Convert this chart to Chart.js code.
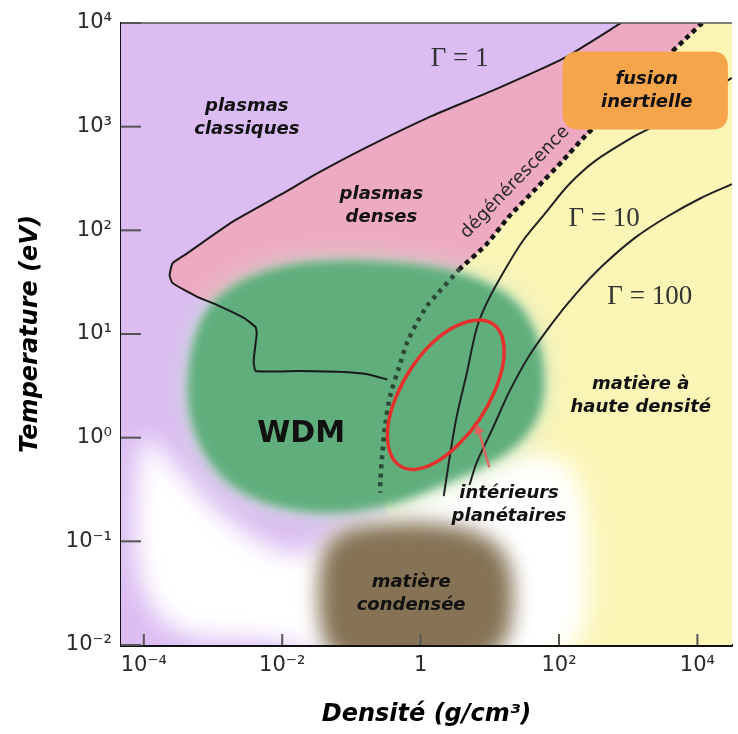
<!DOCTYPE html>
<html><head><meta charset="utf-8">
<script src="https://cdn.jsdelivr.net/npm/chart.js@4.4.0/dist/chart.umd.min.js"></script>
<style>html,body{margin:0;padding:0;background:#fff;}#c{display:block;}</style>
</head><body>
<canvas id="c" width="738" height="734"></canvas>
<script>
// ===== Data: density (g/cm3) and temperature (eV) =====
const xTickValues = [1e-4, 1e-2, 1, 1e2, 1e4];
const xTickLabels = ['10⁻⁴', '10⁻²', '1', '10²', '10⁴'];
const yTickValues = [1e-2, 1e-1, 1, 10, 100, 1000, 10000];
const yTickLabels = ['10⁻²', '10⁻¹', '10⁰', '10¹', '10²', '10³', '10⁴'];

// Gamma = 1 boundary (classical / dense plasmas)
const gamma1Density = [787, 116, 12.8, 1.46, 0.160, 0.033, 0.00975, 0.00188, 4.12e-4, 2.60e-4, 2.36e-4, 2.60e-4, 5.73e-4, 1.22e-3, 2.78e-3, 4.14e-3, 4.28e-3, 3.87e-3, 4.14e-3, 0.0171, 0.0802, 0.171, 0.330];
const gamma1Temp    = [1e4, 4550, 2330, 1270, 624, 358, 223, 120, 59.3, 48.1, 36.6, 31.0, 23.1, 18.7, 14.3, 11.6, 10, 5.56, 4.40, 4.40, 4.30, 4.09, 3.64];

// Degeneracy line
const degenUpperDensity = [1.17e4, 1622, 240, 113, 46.3, 19.0, 8.91, 3.66];
const degenUpperTemp    = [1e4, 2840, 815, 468, 252, 136, 73.1, 42.4];
const degenLowerDensity = [3.66, 1.72, 1.24, 0.888, 0.638, 0.491, 0.365, 0.310, 0.281, 0.262, 0.262];
const degenLowerTemp    = [42.4, 24.1, 18.7, 12.9, 8.28, 4.83, 2.56, 1.36, 0.727, 0.375, 0.294];

// Gamma = 10 and Gamma = 100
const gamma10Density = [3.15e4, 2260, 1250, 334, 137, 64.3, 30.1, 15.6, 8.91, 6.41, 4.61, 3.32, 2.55, 2.16];
const gamma10Temp    = [2950, 1000, 815, 468, 274, 148, 79.4, 39.0, 19.5, 11.1, 4.09, 1.60, 0.569, 0.273];
const gamma100Density = [3.15e4, 1.13e4, 3690, 1250, 421, 173, 80.9, 36.7, 19.0, 11.2, 6.41, 5.09];
const gamma100Temp    = [279, 205, 136, 84.6, 45.2, 24.1, 12.9, 6.11, 2.75, 1.26, 0.569, 0.349];

// Planetary interiors (red contour) and arrow
const planetDensity = [11.3, 15.3, 15.7, 11.9, 7.08, 3.53, 1.66, 0.818, 0.472, 0.348, 0.340, 0.447, 0.753, 1.51, 3.22, 6.52];
const planetTemp    = [12.4, 9.06, 5.36, 2.85, 1.50, 0.859, 0.578, 0.494, 0.551, 0.787, 1.35, 2.52, 4.80, 8.32, 11.9, 13.6];
const arrowDensity = [9.84, 6.85];
const arrowTemp    = [0.516, 1.18];

// Regions
const wdmDensity = [4.55e-4, 7.46e-4, 2.36e-3, 0.0123, 0.0885, 0.888, 4.61, 20.3, 46.3, 64.3, 54.6, 23.9, 6.41, 1.72, 0.459, 0.0637, 8.84e-3, 1.70e-3, 6.36e-4, 4.14e-4];
const wdmTemp    = [6.55, 17.6, 33.0, 48.1, 52.2, 48.1, 38.2, 24.1, 11.6, 4.09, 1.60, 0.783, 0.480, 0.332, 0.230, 0.180, 0.204, 0.332, 0.783, 2.02];
const lowDensity = [7.43e-5, 2.36e-4, 1.04e-3, 4.57e-3, 0.0201, 0.0637, 0.888, 6.41, 54.6, 204, 283, 240, 0.0458, 0.0171, 7.43e-5];
const lowTemp    = [1.42, 0.613, 0.204, 0.0975, 0.0667, 0.141, 0.294, 0.542, 0.783, 0.480, 0.0859, 0.005, 0.005, 0.0114, 0.0114];
const condensedDensity = [0.0458, 0.459, 4.61, 17.2, 23.9, 17.2, 2.38, 0.171, 0.0388, 0.0308];
const condensedTemp    = [0.125, 0.159, 0.141, 0.0859, 0.0313, 0.008, 0.006, 0.006, 0.008, 0.0402];
const denseCornerDensity = [2, 1e5, 1e5];
const denseCornerTemp    = [0.005, 0.005, 2e4];
const fusionBoxDensity = [113, 2.76e4];
const fusionBoxTemp    = [940, 5320];

// Annotations
const regionLabelText = [['plasmas', 'classiques'], ['plasmas', 'denses'], ['fusion', 'inertielle'], ['matière à', 'haute densité'], ['intérieurs', 'planétaires'], ['matière', 'condensée']];
const regionLabelDensity = [3.08e-3, 0.271, 1854, 1520, 19.0, 0.729];
const regionLabelTemp    = [1216, 171, 2198, 2.56, 0.224, 0.0313];
const gammaLabelText = ['Γ = 1', 'Γ = 10', 'Γ = 100'];
const gammaLabelDensity = [3.66, 450, 2050];
const gammaLabelTemp    = [4470, 128, 22.6];
const wdmLabel = 'WDM';
const wdmLabelDensity = 0.0188, wdmLabelTemp = 1.07;
const degenLabel = 'dégénérescence';
const degenLabelDensity = 23.2, degenLabelTemp = 291;

// ===== Build =====
const toPts = (xs, ys) => xs.map((x, i) => ({x: x, y: ys[i]}));
const degenDensity = degenUpperDensity.concat(degenLowerDensity.slice(1));
const degenTemp = degenUpperTemp.concat(degenLowerTemp.slice(1));
const densePts = toPts(degenDensity.concat(denseCornerDensity), degenTemp.concat(denseCornerTemp));
const pinkPts = toPts(gamma1Density, gamma1Temp).concat(toPts(degenDensity, degenTemp).filter(p => p.y >= 4).reverse());
const planetPts = toPts(planetDensity, planetTemp);
const planetLoop = [planetPts[planetPts.length - 1]].concat(planetPts, [planetPts[0], planetPts[1]]);

const RED = '#e6302b';
const regionDs = (data, color, blur, smooth) => ({data: data, showLine: false, pointRadius: 0, pointHitRadius: 0, region: {color: color, blur: blur, smooth: smooth}});
const lineDs = (data, color, width, extra) => Object.assign({data: data, showLine: true, pointRadius: 0, borderColor: color, borderWidth: width, tension: 0.3, fill: false}, extra || {});

const datasets = [
  regionDs(densePts, '#fcf5b6', 0, false),
  regionDs(pinkPts, '#eeaac2', 0, false),
  regionDs(toPts(lowDensity, lowTemp), '#ffffff', 12, true),
  regionDs(toPts(wdmDensity, wdmTemp), 'rgba(196,230,205,0.95)', 14, true),
  regionDs(toPts(wdmDensity, wdmTemp), '#5fae7c', 5, true),
  regionDs(toPts(condensedDensity, condensedTemp), '#867356', 10, true),
  lineDs(toPts(degenUpperDensity, degenUpperTemp), '#111111', 4.5, {borderDash: [5, 4], order: 3, tension: 0.2}),
  lineDs(toPts(degenLowerDensity, degenLowerTemp), 'rgba(35,55,45,0.85)', 4.5, {borderDash: [4, 5], order: 3}),
  lineDs(toPts(gamma1Density, gamma1Temp), '#1a1a1a', 2, {order: 2, tension: 0.15}),
  lineDs(toPts(gamma10Density, gamma10Temp), '#222222', 2, {order: 2}),
  lineDs(toPts(gamma100Density, gamma100Temp), '#222222', 2, {order: 2}),
  lineDs(planetLoop, RED, 3.5, {order: 1, tension: 0.4,
    segment: {borderColor: c => (c.p0DataIndex === 0 || c.p1DataIndex === planetLoop.length - 1) ? 'rgba(0,0,0,0)' : RED}}),
  lineDs(toPts(arrowDensity, arrowTemp), 'rgba(236,90,90,0.85)', 2.5, {order: 0, tension: 0,
    pointRadius: [0, 6], pointStyle: 'triangle', pointBackgroundColor: 'rgba(236,90,90,0.9)', pointBorderWidth: 0,
    pointRotation: c => {
      const xs = c.chart.scales.x, ys = c.chart.scales.y;
      const dx = xs.getPixelForValue(arrowDensity[1]) - xs.getPixelForValue(arrowDensity[0]);
      const dy = ys.getPixelForValue(arrowTemp[1]) - ys.getPixelForValue(arrowTemp[0]);
      return Math.atan2(dx, -dy) * 180 / Math.PI;
    }})
];

const LABEL_FONT = 'italic bold 18px "DejaVu Sans"';
const regionPlugin = {
  id: 'regions',
  beforeDatasetsDraw(chart) {
    const {ctx, chartArea: a} = chart;
    ctx.save();
    ctx.beginPath();
    ctx.rect(a.left, a.top, a.right - a.left, a.bottom - a.top);
    ctx.clip();
    ctx.fillStyle = '#dcbdf3';
    ctx.fillRect(a.left, a.top, a.right - a.left, a.bottom - a.top);
    chart.data.datasets.forEach((ds, i) => {
      if (!ds.region) return;
      const pts = chart.getDatasetMeta(i).data;
      const n = pts.length;
      ctx.save();
      ctx.filter = ds.region.blur ? 'blur(' + ds.region.blur + 'px)' : 'none';
      ctx.fillStyle = ds.region.color;
      ctx.beginPath();
      if (ds.region.smooth) {
        const mid = (p, q) => ({x: (p.x + q.x) / 2, y: (p.y + q.y) / 2});
        const m0 = mid(pts[n - 1], pts[0]);
        ctx.moveTo(m0.x, m0.y);
        for (let k = 0; k < n; k++) {
          const p = pts[k], m = mid(p, pts[(k + 1) % n]);
          ctx.quadraticCurveTo(p.x, p.y, m.x, m.y);
        }
      } else {
        ctx.moveTo(pts[0].x, pts[0].y);
        for (let k = 1; k < n; k++) ctx.lineTo(pts[k].x, pts[k].y);
      }
      ctx.closePath();
      ctx.fill();
      ctx.restore();
    });
    ctx.restore();
  },
  afterDatasetsDraw(chart) {
    const {ctx, chartArea: a} = chart;
    const xs = chart.scales.x, ys = chart.scales.y;
    const px = v => xs.getPixelForValue(v), py = v => ys.getPixelForValue(v);
    ctx.save();
    // inward tick marks and top frame
    ctx.strokeStyle = '#555';
    ctx.lineWidth = 2;
    yTickValues.forEach(v => { const y = py(v); ctx.beginPath(); ctx.moveTo(a.left, y); ctx.lineTo(a.left + 20, y); ctx.stroke(); });
    xTickValues.forEach(v => { const x = px(v); ctx.beginPath(); ctx.moveTo(x, a.bottom); ctx.lineTo(x, a.bottom - 11); ctx.stroke(); });
    ctx.lineWidth = 1.5;
    ctx.beginPath(); ctx.moveTo(a.left, a.top); ctx.lineTo(a.right, a.top); ctx.stroke();
    // fusion box
    const bx0 = px(fusionBoxDensity[0]), bx1 = Math.min(px(fusionBoxDensity[1]), a.right - 2);
    const by0 = py(fusionBoxTemp[1]), by1 = py(fusionBoxTemp[0]);
    const r = 16;
    ctx.fillStyle = '#f6a54b';
    ctx.beginPath();
    ctx.moveTo(bx0 + r, by0);
    ctx.lineTo(bx1 - r, by0); ctx.quadraticCurveTo(bx1, by0, bx1, by0 + r);
    ctx.lineTo(bx1, by1 - r); ctx.quadraticCurveTo(bx1, by1, bx1 - r, by1);
    ctx.lineTo(bx0 + r, by1); ctx.quadraticCurveTo(bx0, by1, bx0, by1 - r);
    ctx.lineTo(bx0, by0 + r); ctx.quadraticCurveTo(bx0, by0, bx0 + r, by0);
    ctx.closePath();
    ctx.fill();
    // region labels
    ctx.textAlign = 'center';
    ctx.textBaseline = 'middle';
    ctx.fillStyle = '#111';
    ctx.font = LABEL_FONT;
    regionLabelText.forEach((lines, i) => {
      const x = px(regionLabelDensity[i]), y = py(regionLabelTemp[i]);
      lines.forEach((t, k) => ctx.fillText(t, x, y + (k - (lines.length - 1) / 2) * 23));
    });
    ctx.font = 'bold 30px "DejaVu Sans"';
    ctx.fillText(wdmLabel, px(wdmLabelDensity), py(wdmLabelTemp));
    ctx.fillStyle = '#333';
    ctx.font = '27px "Liberation Serif"';
    gammaLabelText.forEach((t, i) => ctx.fillText(t, px(gammaLabelDensity[i]), py(gammaLabelTemp[i])));
    // degeneracy label along the line
    const ax = px(degenUpperDensity[5]), ay = py(degenUpperTemp[5]);
    const bx = px(degenUpperDensity[3]), by = py(degenUpperTemp[3]);
    ctx.save();
    ctx.translate(px(degenLabelDensity), py(degenLabelTemp));
    ctx.rotate(Math.atan2(by - ay, bx - ax));
    ctx.fillStyle = '#2a2a2a';
    ctx.font = '18px "DejaVu Sans"';
    ctx.fillText(degenLabel, 0, 0);
    ctx.restore();
    ctx.restore();
  }
};

const labelFor = (vals, labels) => v => {
  const i = vals.findIndex(t => Math.abs(Math.log10(t) - Math.log10(v)) < 1e-6);
  return i >= 0 ? labels[i] : '';
};

new Chart(document.getElementById('c'), {
  type: 'scatter',
  data: {datasets: datasets},
  plugins: [regionPlugin],
  options: {
    responsive: false,
    animation: false,
    events: [],
    layout: {padding: {top: 23, right: 0, bottom: 0, left: 0}},
    plugins: {legend: {display: false}, tooltip: {enabled: false}},
    scales: {
      x: {
        type: 'logarithmic',
        position: 'bottom',
        min: 4.68e-5,
        max: 31623,
        afterBuildTicks: s => { s.ticks = xTickValues.map(v => ({value: v})); },
        afterFit: s => { s.height = 89; },
        grid: {display: false, drawTicks: false},
        border: {display: true, color: '#111', width: 3},
        ticks: {autoSkip: false, maxRotation: 0, padding: 8, color: '#2a2a2a',
          font: {family: 'DejaVu Sans', size: 21}, callback: labelFor(xTickValues, xTickLabels)},
        title: {display: true, text: 'Densité (g/cm³)', color: '#000',
          font: {family: 'DejaVu Sans', size: 24, weight: 'bold', style: 'italic'}, padding: {top: 0, bottom: 5}}
      },
      y: {
        type: 'logarithmic',
        position: 'left',
        min: 0.01,
        max: 10000,
        afterBuildTicks: s => { s.ticks = yTickValues.map(v => ({value: v})); },
        afterFit: s => { s.width = 121; },
        grid: {display: false, drawTicks: false},
        border: {display: true, color: '#111', width: 3},
        ticks: {autoSkip: false, padding: 9, color: '#2a2a2a',
          font: {family: 'DejaVu Sans', size: 21}, callback: labelFor(yTickValues, yTickLabels)},
        title: {display: true, text: 'Temperature (eV)', color: '#000',
          font: {family: 'DejaVu Sans', size: 24, weight: 'bold', style: 'italic'}, padding: {top: 16, bottom: 0}}
      }
    }
  }
});
</script>
</body></html>
